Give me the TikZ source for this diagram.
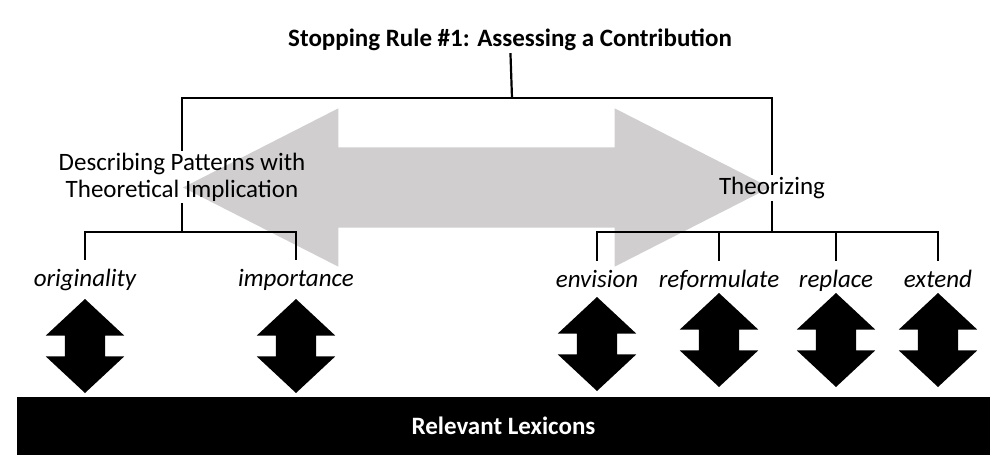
\documentclass[tikz,border=0pt]{standalone}
\usepackage{fontspec}
\setmainfont{Carlito}
\usetikzlibrary{shapes.arrows,positioning}
\definecolor{arrowgray}{HTML}{D0CECE}

\begin{document}
\begin{tikzpicture}[
    x=1pt, y=-1pt,
    txt/.style={font=\fontsize{25}{27}\selectfont, align=center, inner sep=2pt},
    lex/.style={font=\fontsize{25}{27}\selectfont\itshape, inner sep=2pt,
                text height=24pt, text depth=6pt, anchor=base},
    tree/.style={line width=2.2pt},
    bigarrow/.style={double arrow, fill=arrowgray, inner xsep=0pt, inner ysep=40pt,
                     minimum height=587pt, minimum width=158pt,
                     double arrow head extend=39pt,
                     double arrow tip angle=54},
    linkarrow/.style={double arrow, fill=black, inner sep=20pt,
                      minimum height=94pt, minimum width=78pt,
                      double arrow head extend=19pt,
                      double arrow tip angle=94, shape border rotate=90}
]
    \useasboundingbox (0,0) rectangle (1006,473);

    % gray arrow behind everything
    \node[bigarrow] (span) at (476.5,187.5) {};

    \node[txt, font=\fontsize{25}{27}\selectfont\bfseries] (rule) at (510,40)
        {Stopping Rule \#1: Assessing a Contribution};
    \node[txt] (describe) at (182,177)
        {Describing Patterns with\\Theoretical Implication};
    \node[txt] (theorize) at (772,188) {Theorizing};

    \node[lex] (orig) at (85,286) {originality};
    \node[lex] (import) at (296,286) {importance};
    \node[lex] (envis) at (597,287) {envision};
    \node[lex] (reform) at (719,287) {reformulate};
    \node[lex] (replace) at (836,287) {replace};
    \node[lex] (extend) at (938,287) {extend};

    \node[fill=black, text=white, minimum width=973pt, minimum height=58pt,
          inner sep=0pt, font=\fontsize{25}{27}\selectfont\bfseries]
        (lexicons) at (503.5,426) {Relevant Lexicons};

    % tree lines
    \coordinate (top) at (512,98);
    \coordinate (leftfork) at (182,232);
    \coordinate (rightfork) at (772,232);
    \draw[tree] (rule) -- (top);
    \draw[tree] (describe.north) |- (top) -| (theorize.north);
    \draw[tree] (describe.south) -- (leftfork);
    \draw[tree] (orig.north) |- (leftfork) -| (import.north);
    \draw[tree] (theorize.south) -- (rightfork);
    \draw[tree] (envis.north) |- (rightfork) -| (extend.north);
    \draw[tree] (rightfork -| reform) -- (reform.north);
    \draw[tree] (rightfork -| replace) -- (replace.north);

    % links to the lexicon bar
    \node[linkarrow] (a1) at (orig |- 0,346) {};
    \node[linkarrow] (a2) at (import |- 0,346) {};
    \node[linkarrow] (a3) at (envis |- 0,344) {};
    \node[linkarrow] (a4) at (reform |- 0,340) {};
    \node[linkarrow] (a5) at (replace |- 0,340) {};
    \node[linkarrow] (a6) at (extend |- 0,340) {};
\end{tikzpicture}
\end{document}
